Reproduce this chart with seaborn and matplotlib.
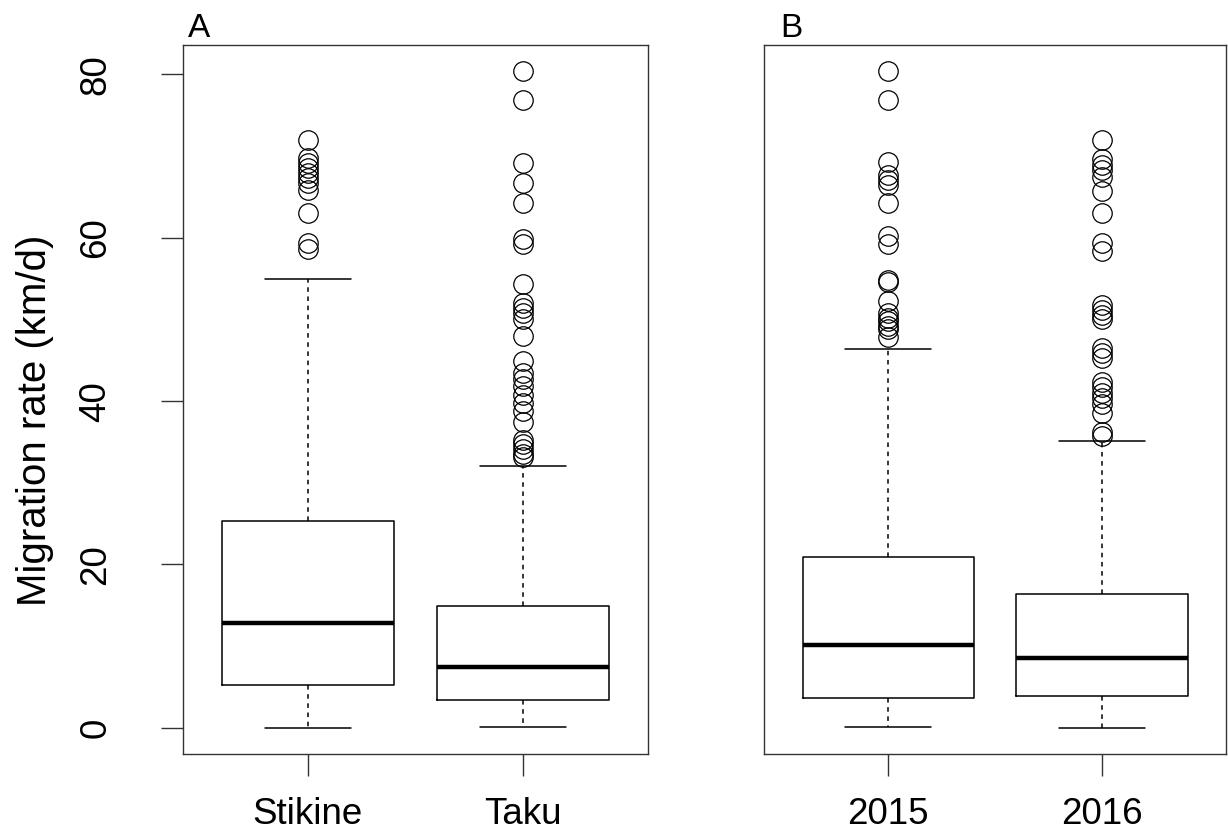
import seaborn as sns
import matplotlib.pyplot as plt

# box statistics (km/d)
rivers = ["Stikine", "Taku"]
river_whislo = [0.0, 0.1]
river_q1 = [5.3, 3.4]
river_med = [12.8, 7.4]
river_q3 = [25.3, 14.9]
river_whishi = [54.9, 32.1]
stikine_out = [72.0, 69.8, 69.2, 68.5, 67.9, 67.3, 66.7, 65.9, 63.0, 59.4, 58.6]
taku_out = [80.4, 76.9, 69.2, 66.7, 64.3, 59.8, 59.2, 54.3, 52.0, 51.4, 50.8,
            50.0, 48.0, 44.9, 43.5, 42.7, 41.8, 40.8, 39.8, 38.8, 37.4, 35.3,
            34.7, 34.1, 33.5, 33.1]

years = ["2015", "2016"]
year_whislo = [0.1, 0.0]
year_q1 = [3.6, 3.9]
year_med = [10.1, 8.6]
year_q3 = [20.9, 16.4]
year_whishi = [46.4, 35.1]
y2015_out = [80.4, 76.9, 69.3, 67.7, 67.1, 66.5, 64.3, 60.2, 59.2, 54.8, 54.6,
             52.2, 50.8, 50.2, 49.8, 49.2, 48.8, 47.8]
y2016_out = [72.0, 69.6, 68.9, 68.3, 67.5, 65.7, 63.0, 59.4, 58.4, 51.8, 51.2,
             50.6, 50.0, 46.5, 45.9, 45.3, 42.3, 41.7, 41.0, 40.4, 39.6, 38.6,
             36.2, 35.7]

yticks = [0, 20, 40, 60, 80]

sns.set_theme(style="ticks")
plt.rcParams["font.family"] = ["Liberation Sans", "DejaVu Sans"]
plt.rcParams["text.color"] = "black"
plt.rcParams["axes.labelcolor"] = "black"
plt.rcParams["xtick.labelcolor"] = "black"
plt.rcParams["ytick.labelcolor"] = "black"

W, H = 1228, 835
fig = plt.figure(figsize=(W / 100, H / 100), dpi=100)
ax_a = fig.add_axes([183 / W, 1 - 754 / H, 465 / W, 709 / H])
ax_b = fig.add_axes([764 / W, 1 - 754 / H, 462 / W, 709 / H])


def make_stats(labels, lo, q1, med, q3, hi, outs):
    return [
        dict(label=labels[i], whislo=lo[i], q1=q1[i], med=med[i], q3=q3[i],
             whishi=hi[i], fliers=outs[i])
        for i in range(len(labels))
    ]


def draw_panel(ax, stats):
    ax.bxp(
        stats,
        positions=[1, 2],
        widths=0.8,
        capwidths=0.4,
        patch_artist=False,
        boxprops=dict(color="black", linewidth=1.1),
        medianprops=dict(color="black", linewidth=3.2, solid_capstyle="butt"),
        whiskerprops=dict(color="black", linewidth=1.1, linestyle=(0, (3, 3))),
        capprops=dict(color="black", linewidth=1.1),
        flierprops=dict(marker="o", markersize=14, markerfacecolor="none",
                        markeredgecolor="black", markeredgewidth=0.9),
    )
    ax.set_xlim(0.42, 2.58)
    ax.set_ylim(-3.2, 83.6)
    for s in ax.spines.values():
        s.set_visible(True)
        s.set_color("#333333")
        s.set_linewidth(1.0)
    ax.tick_params(axis="x", length=16, width=1.0, color="#333333",
                   pad=15, labelsize=26.5)


draw_panel(ax_a, make_stats(rivers, river_whislo, river_q1, river_med,
                            river_q3, river_whishi, [stikine_out, taku_out]))
draw_panel(ax_b, make_stats(years, year_whislo, year_q1, year_med,
                            year_q3, year_whishi, [y2015_out, y2016_out]))

ax_a.set_yticks(yticks)
ax_a.set_yticklabels([str(v) for v in yticks])
ax_a.tick_params(axis="y", length=16, width=1.0, color="#333333",
                 pad=34, labelsize=26.5, labelrotation=90)
for lab in ax_a.get_yticklabels():
    lab.set_va("center")
ax_a.set_ylabel("Migration rate (km/d)", fontsize=29, va="center")
ax_a.yaxis.set_label_coords(-0.318, 0.47)

ax_b.set_yticks([])

fig.text(188 / W, 1 - 37 / H, "A", fontsize=24, ha="left", va="baseline")
fig.text(780 / W, 1 - 37 / H, "B", fontsize=24, ha="left", va="baseline")

fig.savefig("out.png", dpi=100)
